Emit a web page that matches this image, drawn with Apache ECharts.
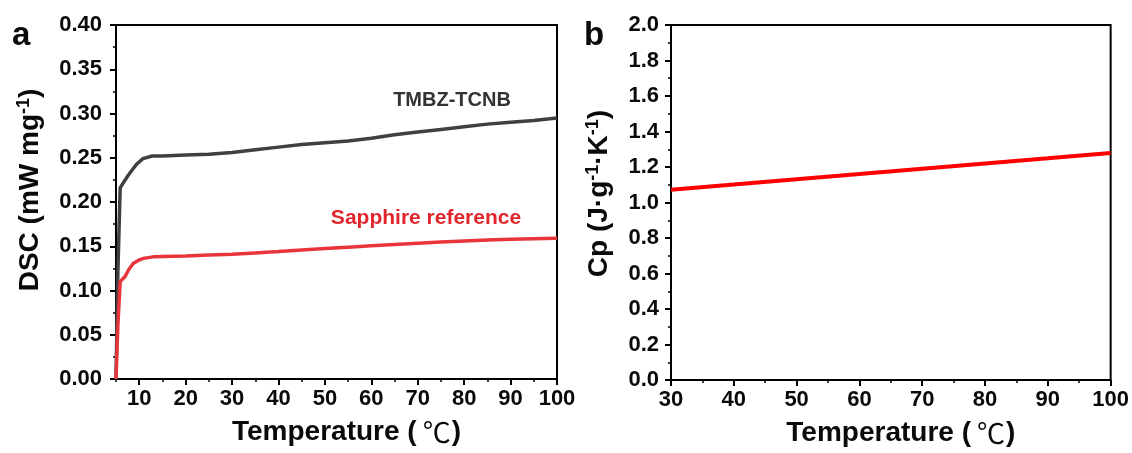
<!DOCTYPE html>
<html><head><meta charset="utf-8">
<script src="https://cdn.jsdelivr.net/npm/echarts@6/dist/echarts.min.js"></script>
<style>html,body{margin:0;padding:0;background:#fff}#c{width:1132px;height:453px}</style>
</head><body><div id="c"></div><script>
// Panel a: DSC curves
const tmbzT = [5.0, 5.4, 5.9, 6.5, 7.6, 8.6, 9.5, 10.8, 12.8, 15, 20, 25, 30, 35, 40, 45, 50, 55, 60, 65, 70, 75, 80, 85, 90, 95, 100];
const tmbzV = [0.000, 0.120, 0.216, 0.221, 0.230, 0.237, 0.243, 0.249, 0.252, 0.252, 0.253, 0.254, 0.256, 0.259, 0.262, 0.265, 0.267, 0.269, 0.272, 0.276, 0.279, 0.282, 0.285, 0.288, 0.290, 0.292, 0.295];
const sapT = [5.0, 5.4, 5.9, 6.9, 7.8, 8.7, 9.8, 10.9, 13.0, 15, 20, 25, 30, 35, 40, 45, 50, 55, 60, 65, 70, 75, 80, 85, 90, 95, 100];
const sapV = [0.000, 0.060, 0.110, 0.1155, 0.124, 0.1305, 0.134, 0.1363, 0.138, 0.1385, 0.139, 0.140, 0.141, 0.1425, 0.144, 0.1458, 0.1475, 0.149, 0.1505, 0.152, 0.1535, 0.1548, 0.156, 0.157, 0.1578, 0.1585, 0.159];
// Panel b: Cp
const cpT = [30, 40, 50, 60, 70, 80, 90, 100];
const cpV = [1.072, 1.101, 1.131, 1.160, 1.190, 1.220, 1.249, 1.279];
// Tick values
const xMajorA = [10, 20, 30, 40, 50, 60, 70, 80, 90, 100];
const xMinorA = [5, 15, 25, 35, 45, 55, 65, 75, 85, 95];

const FF = '"Liberation Sans", Arial, "DejaVu Sans", "Noto Sans CJK SC", sans-serif';
const zip = (a, b) => a.map((v, i) => [v, b[i]]);
const black = '#000';
const lbl = {fontFamily: FF, fontWeight: 'bold', fontSize: 22, color: '#0a0a0a'};
const nameRich = {
  a: {fontFamily: FF, fontWeight: 'bold', fontSize: 28, color: '#0a0a0a'},
  s: {fontFamily: FF, fontWeight: 'bold', fontSize: 18, color: '#0a0a0a', verticalAlign: 'top', padding: [0, 0, 12, 0]},
  c: {fontFamily: '"Noto Sans CJK SC", "DejaVu Sans", sans-serif', fontWeight: 'normal', fontSize: 28, color: '#0a0a0a', padding: [0, 1, 0, 6]}
};
const baseAxis = {
  type: 'value',
  axisLine: {show: true, lineStyle: {color: black, width: 2}},
  axisTick: {show: true, length: 6, lineStyle: {color: black, width: 2}},
  minorTick: {show: true, splitNumber: 2, length: 3, lineStyle: {color: black, width: 1.5}},
  splitLine: {show: false},
  minorSplitLine: {show: false}
};
const xName = '{a|Temperature (}{c|℃}{a|)}';

const chart = echarts.init(document.getElementById('c'), null, {renderer: 'canvas'});
chart.setOption({
  animation: false,
  backgroundColor: '#fff',
  grid: [
    {left: 116, top: 25, width: 441, height: 354, show: true, borderColor: black, borderWidth: 2, backgroundColor: 'transparent'},
    {left: 671, top: 25, width: 440, height: 355, show: true, borderColor: black, borderWidth: 2, backgroundColor: 'transparent'}
  ],
  xAxis: [
    Object.assign({}, baseAxis, {
      gridIndex: 0, position: 'bottom', min: 5, max: 100,
      minorTick: {show: false},
      axisTick: {show: true, length: 6, customValues: xMajorA, lineStyle: {color: black, width: 2}},
      axisLabel: Object.assign({customValues: xMajorA, margin: 9}, lbl),
      name: xName, nameLocation: 'middle', nameGap: 39,
      nameTextStyle: {rich: nameRich, padding: [0, 0, 0, 20]}
    }),
    {
      type: 'value', gridIndex: 0, position: 'bottom', min: 5, max: 100,
      axisLine: {show: false},
      axisTick: {show: true, length: 3, customValues: xMinorA, lineStyle: {color: black, width: 1.5}},
      axisLabel: {show: false},
      splitLine: {show: false}
    },
    Object.assign({}, baseAxis, {
      gridIndex: 1, position: 'bottom', min: 30, max: 100, interval: 10,
      axisLabel: Object.assign({margin: 9}, lbl),
      name: xName, nameLocation: 'middle', nameGap: 39,
      nameTextStyle: {rich: nameRich, padding: [0, 0, 0, 20]}
    })
  ],
  yAxis: [
    Object.assign({}, baseAxis, {
      gridIndex: 0, min: 0, max: 0.4, interval: 0.05,
      axisLabel: Object.assign({margin: 14, formatter: v => v.toFixed(2)}, lbl),
      name: '{a|DSC (mW mg}{s|-1}{a|)}', nameLocation: 'middle', nameRotate: 90, nameGap: 71,
      nameTextStyle: {rich: nameRich, padding: [0, 0, 0, 24]}
    }),
    Object.assign({}, baseAxis, {
      gridIndex: 1, min: 0, max: 2, interval: 0.2,
      axisLabel: Object.assign({margin: 12, formatter: v => v.toFixed(1)}, lbl),
      name: '{a|Cp (J·g}{s|-1}{a|·K}{s|-1}{a|)}', nameLocation: 'middle', nameRotate: 90, nameGap: 57,
      nameTextStyle: {rich: nameRich, padding: [0, 0, 0, 18]}
    })
  ],
  series: [
    {type: 'line', xAxisIndex: 0, yAxisIndex: 0, data: zip(tmbzT, tmbzV), showSymbol: false,
     lineStyle: {color: '#404040', width: 3.5}, z: 3},
    {type: 'line', xAxisIndex: 0, yAxisIndex: 0, data: zip(sapT, sapV), showSymbol: false,
     lineStyle: {color: '#e8353b', width: 3.5}, z: 4},
    {type: 'line', xAxisIndex: 2, yAxisIndex: 1, data: zip(cpT, cpV), showSymbol: false,
     lineStyle: {color: '#ff0000', width: 4}}
  ],
  graphic: [
    {type: 'text', left: 12, top: 19, style: {text: 'a', fontFamily: FF, fontWeight: 'bold', fontSize: 33, fill: '#0a0a0a'}},
    {type: 'text', left: 584, top: 19, style: {text: 'b', fontFamily: FF, fontWeight: 'bold', fontSize: 33, fill: '#0a0a0a'}},
    {type: 'text', x: 452, y: 100, style: {text: 'TMBZ-TCNB', fontFamily: FF, fontWeight: 'bold', fontSize: 20, fill: '#333', align: 'center', verticalAlign: 'middle'}},
    {type: 'text', x: 426, y: 218, style: {text: 'Sapphire reference', fontFamily: FF, fontWeight: 'bold', fontSize: 21, fill: '#e0262c', align: 'center', verticalAlign: 'middle'}}
  ]
});
</script></body></html>
